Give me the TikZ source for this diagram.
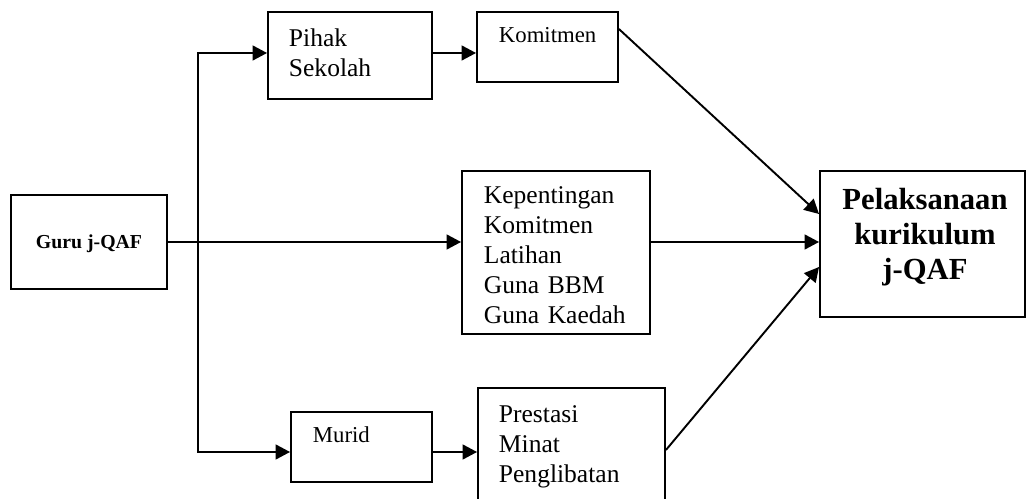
\documentclass[tikz,border=0pt]{standalone}
\usepackage{fontspec}
\setmainfont{Liberation Serif}
\usetikzlibrary{arrows.meta,calc}
\newcommand{\px}{0.47pt}

\begin{document}
\begin{tikzpicture}[x=0.47pt,y=-0.47pt,line width=0.9pt,
    >={Triangle[length=6.8pt,width=7pt]},
    box/.style={draw,inner sep=0pt},
    lbl/.style={inner sep=0pt,anchor=base west,align=left,text width=3.8cm,
      font=\fontsize{12}{14.1}\selectfont},
    small/.style={font=\fontsize{10.7}{13}\selectfont}]
  \useasboundingbox (0,0) rectangle (1028,499);
  \clip (0,0) rectangle (1028,499);
  \foreach \b/\cx/\cy/\w/\h in {guru/89/242/156/94, pihak/350/55.5/164/87,
      kom/547.5/47/141/70, mid/556/252.5/188/163, murid/361.5/447/141/70,
      pre/571.5/450/187/124, plk/922.5/244/205/146} {
      \node[box,minimum width=\w*\px,minimum height=\h*\px] (\b) at (\cx,\cy) {};
    }

  \node[inner sep=0pt,anchor=base,font=\bfseries\fontsize{9.3}{11}\selectfont]
    (guru-t) at (89,249) {Guru j-QAF};
  \node[lbl] (pihak-t) at (288,47) {Pihak\\Sekolah};
  \node[lbl,small] (kom-t) at (498,43) {Komitmen};
  \node[lbl] (mid-t) at (483,204) {Kepentingan\\Komitmen\\Latihan\\Guna BBM\\Guna Kaedah};
  \node[lbl,small] (murid-t) at (312,443) {Murid};
  \node[lbl,font=\fontsize{12}{13.9}\selectfont] (pre-t) at (498,423) {Prestasi\\Minat\\Penglibatan};
  \node[inner sep=0pt,anchor=base,align=center,text width=4.2cm,
    font=\bfseries\fontsize{14.4}{16.45}\selectfont]
    (plk-t) at (925,210) {Pelaksanaan\\kurikulum\\j-QAF};

  \coordinate (top) at (198,53);
  \coordinate (bot) at (198,452);
  \draw[->] (bot) -- (top) -- (top -| pihak.west);
  \draw[->] (top) -- (bot) -- (bot -| murid.west);
  \draw[->] (guru.east) -- (guru.east -| mid.west);
  \draw[->] (top -| pihak.east) -- (top -| kom.west);
  \draw[->] (bot -| murid.east) -- (bot -| pre.west);
  \draw[->] ($(kom.north east)+(0,18)$) -- ($(plk.west)+(0,-30)$);
  \draw[->] (mid.east |- guru.east) -- (guru.east -| plk.west);
  \draw[->] (pre.east) -- ($(plk.west)+(0,23)$);
\end{tikzpicture}
\end{document}
